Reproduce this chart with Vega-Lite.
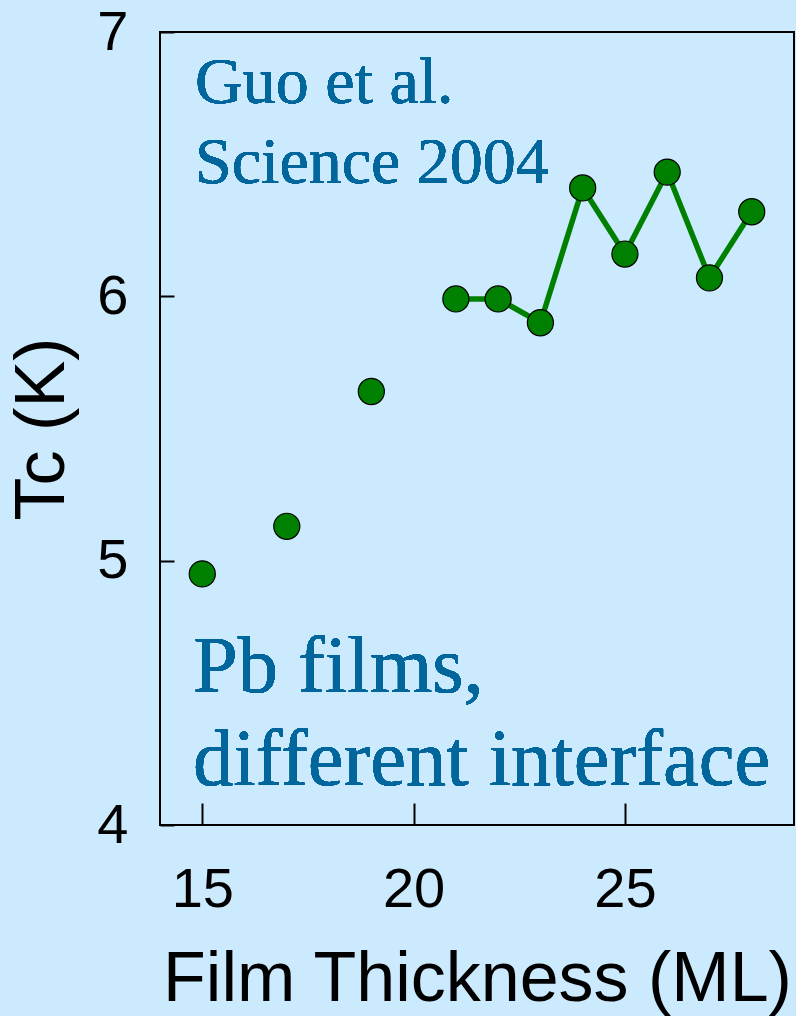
{
  "$schema": "https://vega.github.io/schema/vega-lite/v6.json",
  "width": 634,
  "height": 793,
  "autosize": {"type": "none"},
  "padding": {"left": 160, "top": 32, "right": 2, "bottom": 191},
  "background": "#cceafd",
  "config": {
    "view": {"stroke": "#000000", "strokeWidth": 2, "fill": "#cceafd"},
    "axis": {
      "grid": false,
      "domain": false,
      "tickColor": "#000000",
      "tickWidth": 2,
      "labelFont": "Liberation Sans",
      "labelColor": "#000000",
      "labelFontSize": 56,
      "titleFont": "Liberation Sans",
      "titleColor": "#000000",
      "titleFontSize": 70,
      "titleFontWeight": "normal"
    }
  },
  "data": {
    "values": [
      {"ml": 15, "tc": 4.95},
      {"ml": 17, "tc": 5.13},
      {"ml": 19, "tc": 5.64},
      {"ml": 21, "tc": 5.99},
      {"ml": 22, "tc": 5.99},
      {"ml": 23, "tc": 5.90},
      {"ml": 24, "tc": 6.41},
      {"ml": 25, "tc": 6.16},
      {"ml": 26, "tc": 6.47},
      {"ml": 27, "tc": 6.07},
      {"ml": 28, "tc": 6.32}
    ]
  },
  "encoding": {
    "x": {
      "field": "ml",
      "type": "quantitative",
      "scale": {"domain": [14, 29], "nice": false, "zero": false},
      "axis": {"title": "Film Thickness (ML)", "values": [15, 20, 25], "tickSize": -22, "labelPadding": 59, "titlePadding": 28, "labelFlush": false}
    },
    "y": {
      "field": "tc",
      "type": "quantitative",
      "scale": {"domain": [4, 7], "nice": false, "zero": false},
      "axis": {"title": "Tc (K)", "values": [4, 5, 6, 7], "tickSize": -14, "labelPadding": 46, "titlePadding": 18, "labelFlush": false}
    }
  },
  "layer": [
    {
      "transform": [{"filter": "datum.ml >= 21"}],
      "mark": {"type": "line", "color": "#008000", "strokeWidth": 5.5}
    },
    {
      "mark": {"type": "point", "shape": "circle", "filled": true, "fill": "#008000", "stroke": "#000000", "strokeWidth": 1.2, "size": 680, "opacity": 1}
    },
    {
      "mark": {"type": "text", "align": "left", "baseline": "alphabetic", "font": "Liberation Serif", "fontSize": 66, "lineHeight": 80, "color": "#00669b"},
      "encoding": {
        "x": {"datum": 14.83},
        "y": {"datum": 6.73},
        "text": {"value": ["Guo et al.", "Science 2004"]}
      }
    },
    {
      "mark": {"type": "text", "align": "left", "baseline": "alphabetic", "font": "Liberation Serif", "fontSize": 80.5, "lineHeight": 93, "color": "#00669b"},
      "encoding": {
        "x": {"datum": 14.78},
        "y": {"datum": 4.503},
        "text": {"value": ["Pb films,", "different interface"]}
      }
    }
  ]
}
